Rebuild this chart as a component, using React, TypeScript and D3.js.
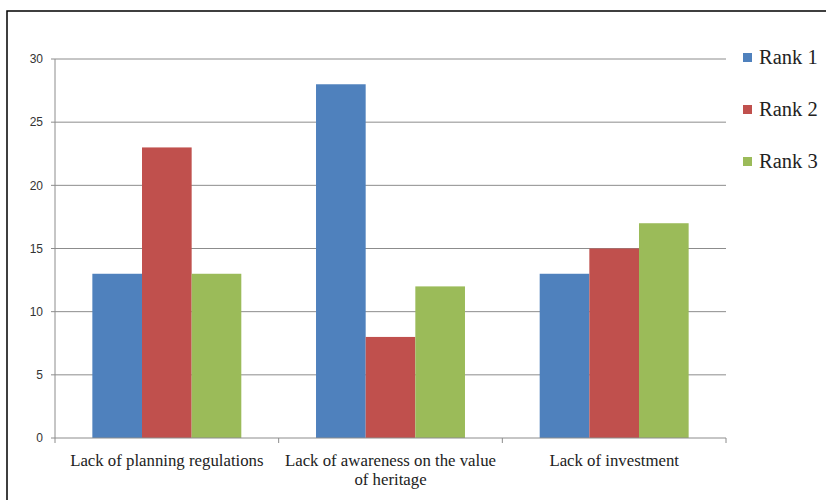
import React from "react";
import * as d3 from "d3";

const categories = ["Lack of planning regulations", "Lack of awareness on the value of heritage", "Lack of investment"];
const categoryLines = [["Lack of planning regulations"], ["Lack of awareness on the value", "of heritage"], ["Lack of investment"]];
const seriesNames = ["Rank 1", "Rank 2", "Rank 3"];
const rank1 = [13, 28, 13];
const rank2 = [23, 8, 15];
const rank3 = [13, 12, 17];
const yTicks = [0, 5, 10, 15, 20, 25, 30];
const colors = ["#4F81BD", "#C0504D", "#9BBB59"];

const SERIF = "'Liberation Serif'";
const SANS = "'Liberation Sans'";

export default function App() {
  const W = 826, H = 500;
  const left = 55, right = 726, top = 59, bottom = 438;
  const series = [rank1, rank2, rank3];
  const y = d3.scaleLinear().domain([0, 30]).range([bottom, top]);
  const x0 = d3.scaleBand<string>().domain(categories).range([left, right]).paddingInner(0.334).paddingOuter(0.167);
  const x1 = d3.scaleBand<string>().domain(seriesNames).range([0, x0.bandwidth()]);
  const step = (right - left) / categories.length;
  const boundaries = d3.range(categories.length + 1).map((i) => left + i * step);
  const legendY = [58, 110, 162];

  return (
    <svg width={W} height={H} style={{ position: "absolute", left: 0, top: 0, background: "#fff" }}>
      <rect x={7} y={11} width={W + 20} height={H + 20} fill="none" stroke="#000" strokeWidth={1.5} />
      {yTicks.map((t) => (
        <g key={t}>
          {t > 0 && <line x1={left} x2={right} y1={y(t)} y2={y(t)} stroke="#8c8c8c" strokeWidth={1} />}
          <line x1={left - 4} x2={left} y1={y(t)} y2={y(t)} stroke="#8c8c8c" strokeWidth={1} />
          <text x={43} y={y(t)} dy="0.35em" textAnchor="end" style={{ fontFamily: SANS }} fontSize={12} fill="#333">{t}</text>
        </g>
      ))}
      {categories.map((c, ci) => (
        <g key={c}>
          {series.map((s, si) => (
            <rect key={si} x={(x0(c) as number) + (x1(seriesNames[si]) as number)} y={y(s[ci])} width={x1.bandwidth()} height={y(0) - y(s[ci])} fill={colors[si]} />
          ))}
        </g>
      ))}
      <line x1={left} x2={left} y1={top} y2={bottom} stroke="#8c8c8c" strokeWidth={1} />
      <line x1={left} x2={right} y1={bottom} y2={bottom} stroke="#8c8c8c" strokeWidth={1} />
      {boundaries.map((b, i) => (
        <line key={i} x1={b} x2={b} y1={bottom} y2={bottom + 5} stroke="#8c8c8c" strokeWidth={1} />
      ))}
      {categories.map((c, ci) => (
        <text key={c} textAnchor="middle" style={{ fontFamily: SERIF }} fontSize={16.8} fill="#222">
          {categoryLines[ci].map((ln, li) => (
            <tspan key={li} x={(x0(c) as number) + x0.bandwidth() / 2} y={466 + li * 18.5}>{ln}</tspan>
          ))}
        </text>
      ))}
      {seriesNames.map((n, i) => (
        <g key={n}>
          <rect x={743} y={legendY[i] - 5} width={9} height={9} fill={colors[i]} />
          <text x={759} y={legendY[i] + 6} style={{ fontFamily: SERIF }} fontSize={20.5} fill="#222">{n}</text>
        </g>
      ))}
    </svg>
  );
}
